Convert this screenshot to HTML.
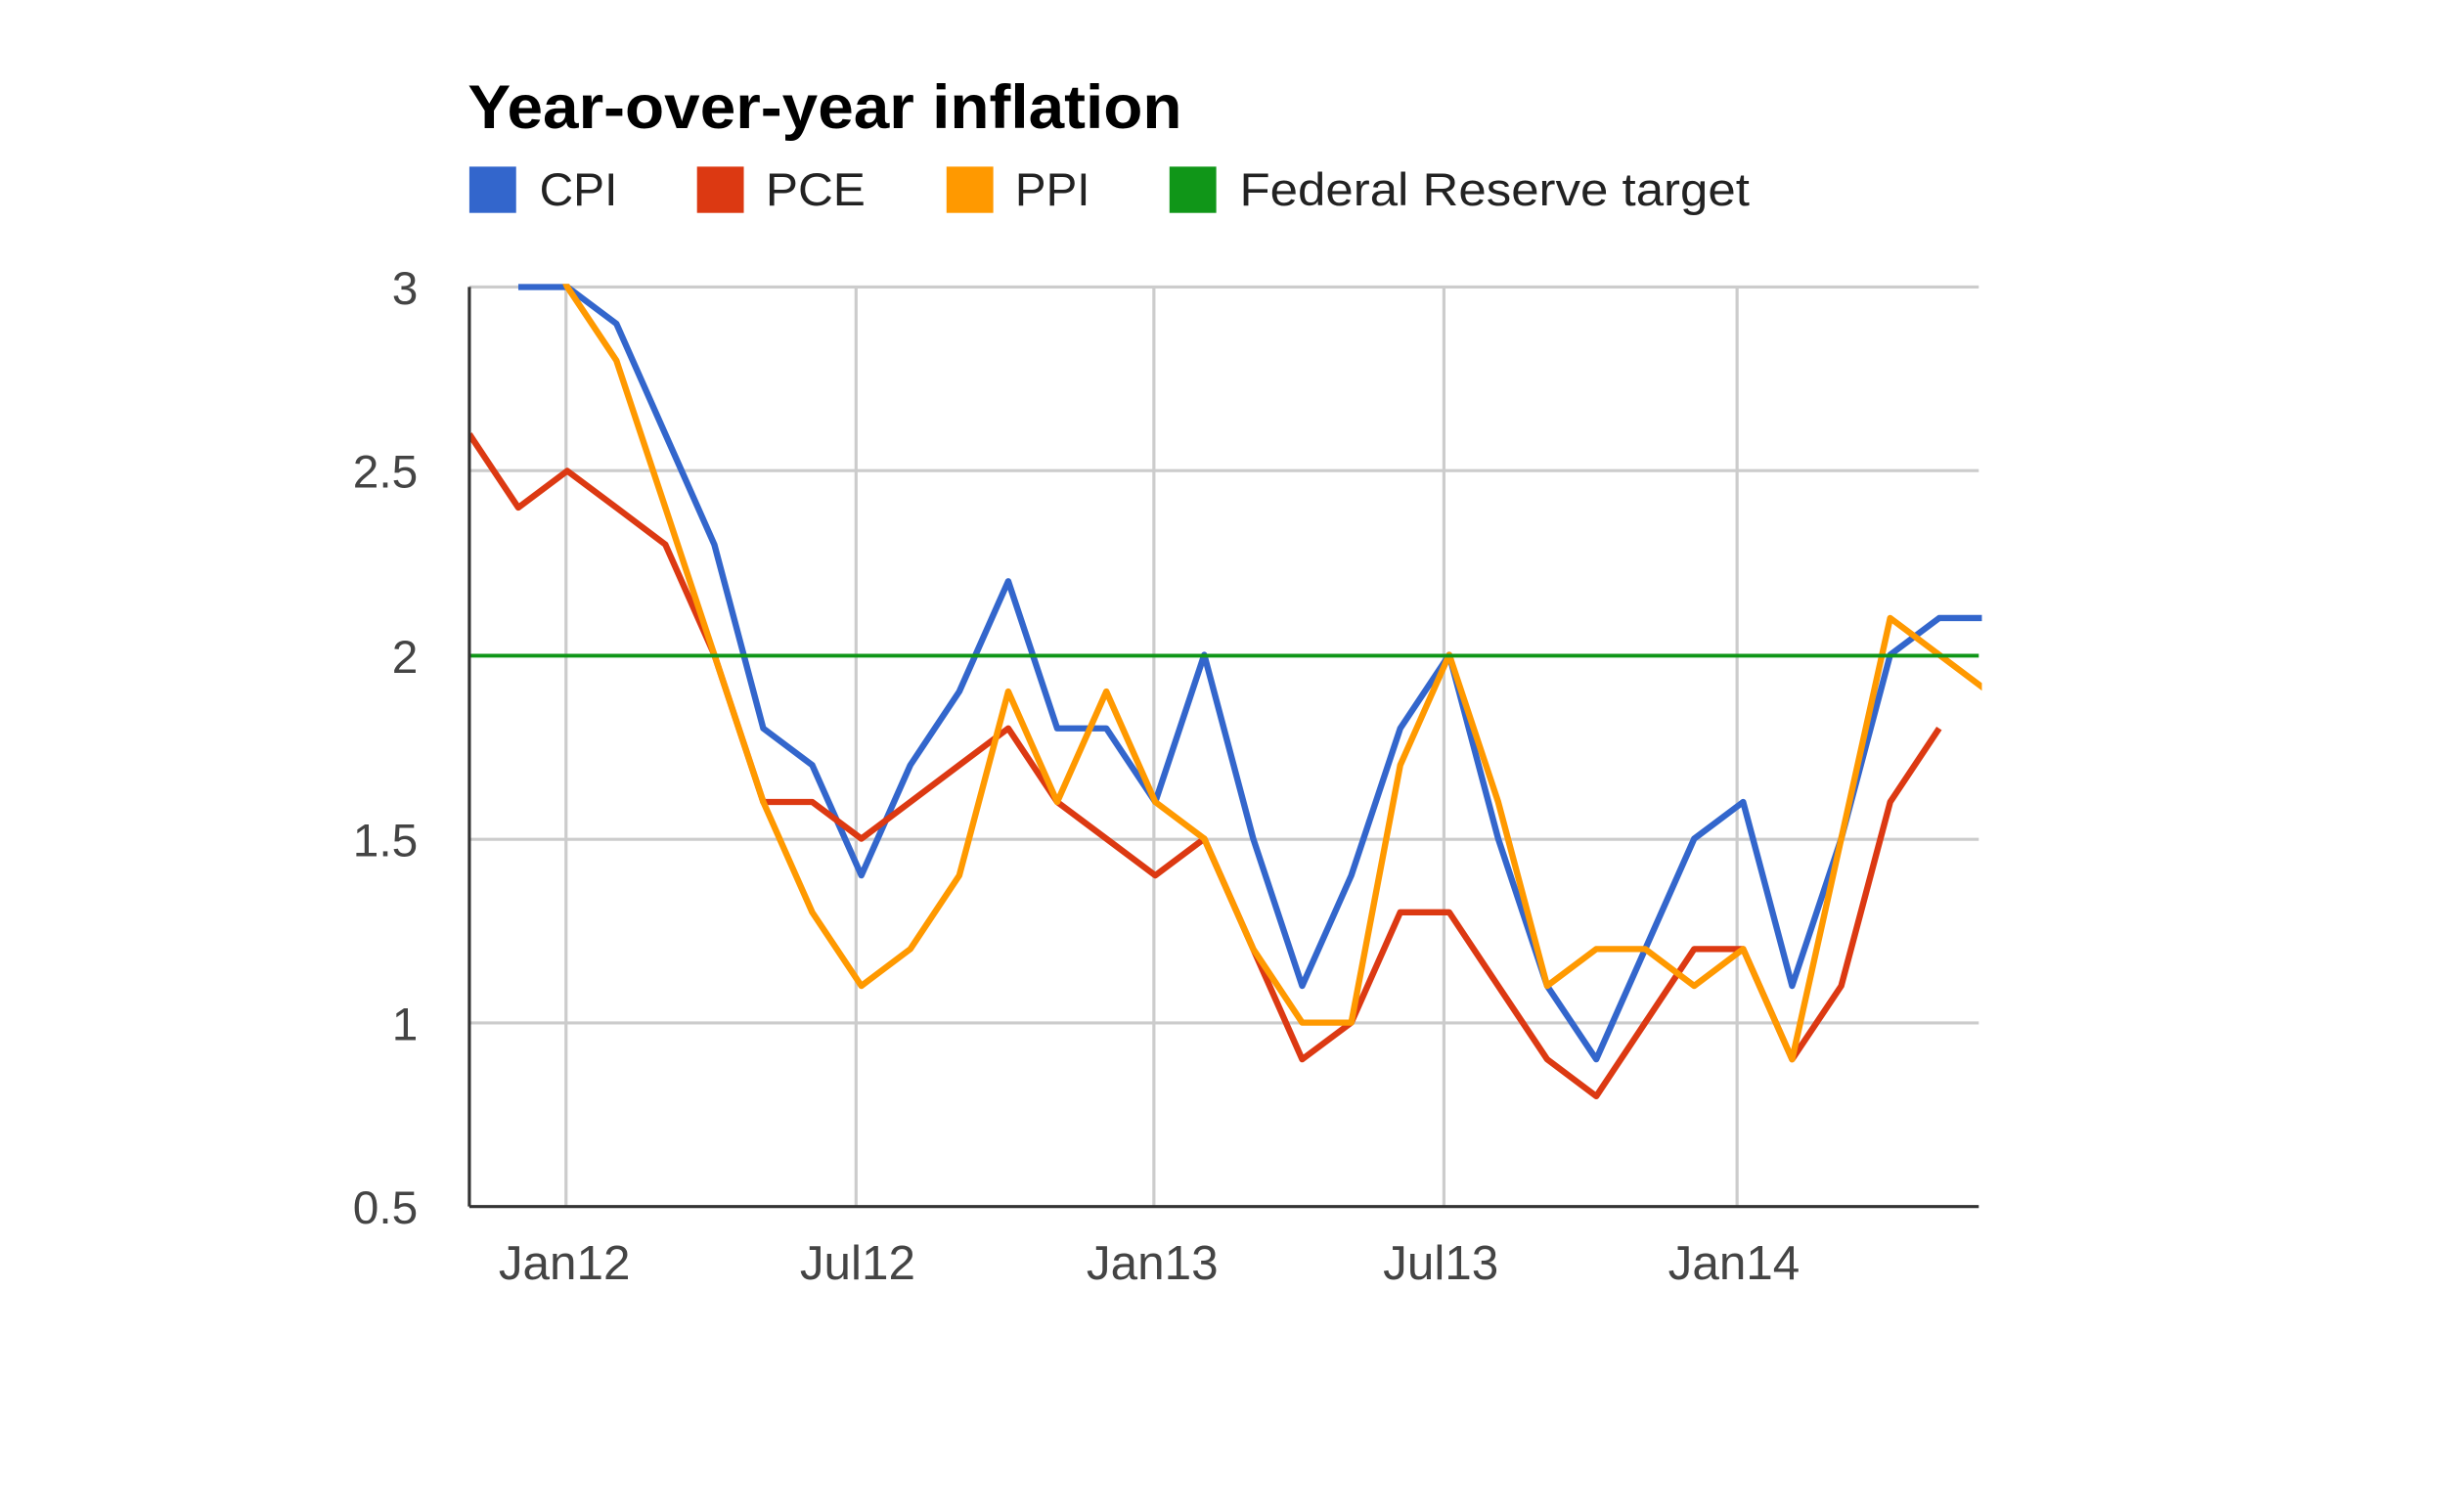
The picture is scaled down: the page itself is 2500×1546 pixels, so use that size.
<!DOCTYPE html>
<html><head><meta charset="utf-8"><style>
html,body{margin:0;padding:0;background:#fff;}
svg{display:block;}
text{font-family:"Liberation Sans",sans-serif;}
</style></head><body>
<svg id="s" width="2500" height="1546" viewBox="0 0 1568 980" preserveAspectRatio="none" xmlns="http://www.w3.org/2000/svg">
<rect width="1568" height="980" fill="#fff"/>
<text x="300" y="83" font-size="40" font-weight="bold" fill="#000" textLength="458" lengthAdjust="spacingAndGlyphs">Year-over-year inflation</text>
<rect x="301" y="108" width="30" height="30" fill="#3366cc"/>
<text x="346" y="133" font-size="30" fill="#222" textLength="50" lengthAdjust="spacingAndGlyphs">CPI</text>
<rect x="447" y="108" width="30" height="30" fill="#dc3912"/>
<text x="491" y="133" font-size="30" fill="#222" textLength="64" lengthAdjust="spacingAndGlyphs">PCE</text>
<rect x="607" y="108" width="30" height="30" fill="#ff9900"/>
<text x="651" y="133" font-size="30" fill="#222" textLength="48" lengthAdjust="spacingAndGlyphs">PPI</text>
<rect x="750" y="108" width="30" height="30" fill="#109618"/>
<text x="795" y="133" font-size="30" fill="#222" textLength="327" lengthAdjust="spacingAndGlyphs">Federal Reserve target</text>
<g stroke="#cccccc" stroke-width="2">
<line x1="301" y1="186" x2="1269" y2="186"/><line x1="301" y1="305" x2="1269" y2="305"/>
<line x1="301" y1="544" x2="1269" y2="544"/><line x1="301" y1="663" x2="1269" y2="663"/>
<line x1="363" y1="186" x2="363" y2="782"/><line x1="549" y1="186" x2="549" y2="782"/>
<line x1="740" y1="186" x2="740" y2="782"/><line x1="926" y1="186" x2="926" y2="782"/>
<line x1="1114" y1="186" x2="1114" y2="782"/>
</g>
<g font-size="30" fill="#444" text-anchor="end">
<text x="268" y="197">3</text><text x="268" y="316">2.5</text><text x="268" y="436">2</text>
<text x="268" y="555">1.5</text><text x="268" y="674">1</text><text x="268" y="793">0.5</text>
</g>
<g font-size="31" fill="#444" text-anchor="middle">
<text x="362" y="829">Jan12</text><text x="550" y="829">Jul12</text><text x="739" y="829">Jan13</text>
<text x="924" y="829">Jul13</text><text x="1112" y="829">Jan14</text>
</g>
<defs><clipPath id="c"><rect x="301" y="184" width="970" height="600"/></clipPath></defs>
<g id="series" clip-path="url(#c)" fill="none" stroke-width="4" stroke-linejoin="round"></g>
<line x1="301" y1="425" x2="1269" y2="425" stroke="#109618" stroke-width="2.5"/>
<line x1="301" y1="186" x2="301" y2="782" stroke="#333" stroke-width="2"/>
<line x1="301" y1="782" x2="1269" y2="782" stroke="#333" stroke-width="2"/>
</svg>
<script>
var cpi=[null,3.0,3.0,2.9,2.6,2.3,1.8,1.7,1.4,1.7,1.9,2.2,1.8,1.8,1.6,2.0,1.5,1.1,1.4,1.8,2.0,1.5,1.1,0.9,1.2,1.5,1.6,1.1,1.5,2.0,2.1,2.1];
var pce=[2.6,2.4,2.5,2.4,2.3,2.0,1.6,1.6,1.5,1.6,1.7,1.8,1.6,1.5,1.4,1.5,1.2,0.9,1.0,1.3,1.3,1.1,0.9,0.8,1.0,1.2,1.2,0.9,1.1,1.6,1.8];
var ppi=[null,3.3,3.0,2.8,2.4,2.0,1.6,1.3,1.1,1.2,1.4,1.9,1.6,1.9,1.6,1.5,1.2,1.0,1.0,1.7,2.0,1.6,1.1,1.2,1.2,1.1,1.2,0.9,1.5,2.1,2.0,1.9];
function pts(a){var s=[];for(var i=0;i<a.length;i++){if(a[i]==null)continue;s.push((301+i*31.42).toFixed(1)+","+(186+(3-a[i])*238.4).toFixed(1));}return s.join(" ");}
var g=document.getElementById("series");
[[cpi,"#3366cc"],[pce,"#dc3912"],[ppi,"#ff9900"]].forEach(function(d){
var p=document.createElementNS("http://www.w3.org/2000/svg","polyline");
p.setAttribute("points",pts(d[0]));p.setAttribute("stroke",d[1]);g.appendChild(p);});
</script>
</body></html>
